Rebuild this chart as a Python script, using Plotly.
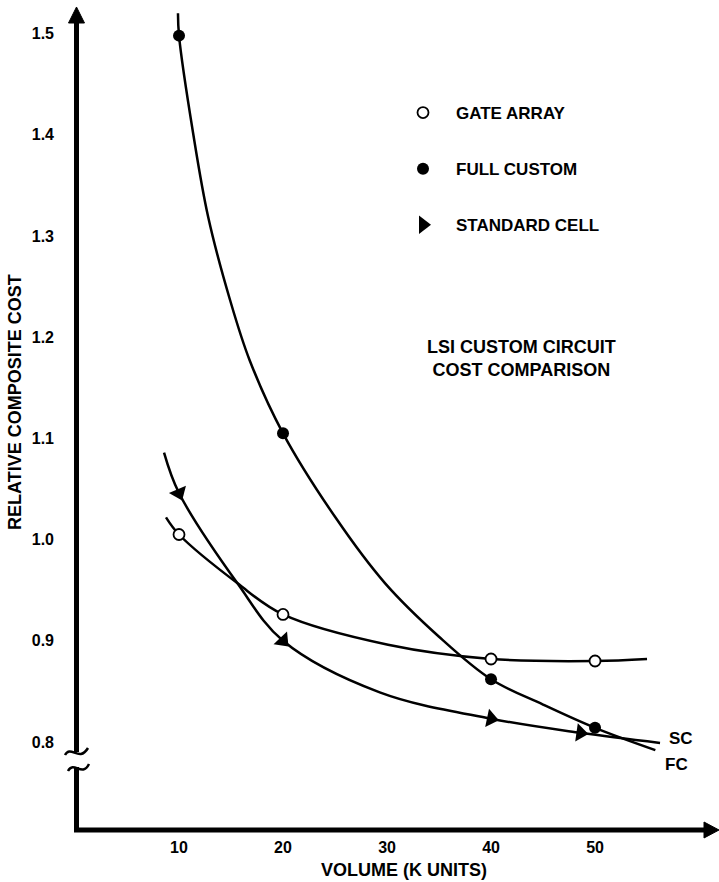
import plotly.graph_objects as go

FONT = "Liberation Sans"

# Relative composite cost at each production volume (K units)
ga_volume = [10, 20, 40, 50]
ga_cost = [1.005, 0.926, 0.882, 0.880]

fc_volume = [10, 20, 40, 50]
fc_cost = [1.498, 1.105, 0.862, 0.814]

sc_volume = [10, 20, 40, 48.6]
sc_cost = [1.046, 0.900, 0.823, 0.809]

# Faired trend curves drawn through the measured points
ga_curve_x = [8.75, 10, 15.6, 20, 30.1, 40, 50, 55.0]
ga_curve_y = [1.022, 1.005, 0.957, 0.926, 0.896, 0.882, 0.880, 0.882]

fc_curve_x = [9.9, 10, 11.35, 12.8, 14.9, 16.8, 20, 25.1, 29.8, 35, 40, 45, 50, 55.8]
fc_curve_y = [1.520, 1.498, 1.402, 1.319, 1.237, 1.177, 1.105, 1.021, 0.957, 0.904,
              0.862, 0.837, 0.814, 0.792]

sc_curve_x = [8.56, 10, 15.6, 20, 29.3, 40, 48.6, 56.25]
sc_curve_y = [1.086, 1.046, 0.957, 0.900, 0.849, 0.823, 0.809, 0.799]

x_ticks = [10, 20, 30, 40, 50]
y_ticks = [0.8, 0.9, 1.0, 1.1, 1.2, 1.3, 1.4, 1.5]

# Arrow directions of the standard-cell triangles (degrees clockwise)
sc_marker_angles = [67, 47, 12, 8]

# Figure geometry (pixels)
W, H = 719, 882
ML, MR, MT, MB = 75, 0, 8, 52
PW, PH = W - ML - MR, H - MT - MB


def fx(p):
    return (p - ML) / PW


def fy(p):
    return (H - MB - p) / PH


def path(points, close=False):
    s = "M " + " L ".join(f"{fx(x):.5f},{fy(y):.5f}" for x, y in points)
    return s + (" Z" if close else "")


def curve(p0, c1, c2, p1):
    return (f"M {fx(p0[0]):.5f},{fy(p0[1]):.5f} C {fx(c1[0]):.5f},{fy(c1[1]):.5f} "
            f"{fx(c2[0]):.5f},{fy(c2[1]):.5f} {fx(p1[0]):.5f},{fy(p1[1]):.5f}")


fig = go.Figure()

line_style = dict(color="black", width=2.5, shape="spline", smoothing=1.0)
fig.add_trace(go.Scatter(x=ga_curve_x, y=ga_curve_y, mode="lines", line=line_style,
                         showlegend=False, hoverinfo="skip"))
fig.add_trace(go.Scatter(x=fc_curve_x, y=fc_curve_y, mode="lines", line=line_style,
                         showlegend=False, hoverinfo="skip"))
fig.add_trace(go.Scatter(x=sc_curve_x, y=sc_curve_y, mode="lines", line=line_style,
                         showlegend=False, hoverinfo="skip"))

fig.add_trace(go.Scatter(
    x=ga_volume, y=ga_cost, mode="markers", name="GATE ARRAY", legendgroup="ga",
    marker=dict(symbol="circle", size=11, color="white", line=dict(color="black", width=1.8)),
))
fig.add_trace(go.Scatter(
    x=fc_volume, y=fc_cost, mode="markers", name="FULL CUSTOM", legendgroup="fc",
    marker=dict(symbol="circle", size=12, color="black", line=dict(width=0)),
))
fig.add_trace(go.Scatter(
    x=sc_volume, y=sc_cost, mode="markers", name="STANDARD CELL", legendgroup="sc",
    showlegend=False,
    marker=dict(symbol="triangle-right", size=16, color="black", angle=sc_marker_angles,
                line=dict(width=0)),
))
# legend key for the standard-cell symbol (unrotated)
fig.add_trace(go.Scatter(
    x=[None], y=[None], mode="markers", name="STANDARD CELL", legendgroup="sc",
    marker=dict(symbol="triangle-right", size=16, color="black", line=dict(width=0)),
))

shapes = []
# y axis (with break) and arrow
shapes.append(dict(type="path", path=path([(76.5, 22), (76.5, 752)]),
                   xref="paper", yref="paper", line=dict(color="black", width=5)))
shapes.append(dict(type="path", path=path([(76.5, 767), (76.5, 830)]),
                   xref="paper", yref="paper", line=dict(color="black", width=5)))
shapes.append(dict(type="path", path=path([(68.5, 23), (76.5, 7), (84.5, 23)], close=True),
                   xref="paper", yref="paper", fillcolor="black", line=dict(color="black", width=1)))
# break marks
shapes.append(dict(type="path", path=curve((65, 755), (71, 744), (79, 763), (88, 748)),
                   xref="paper", yref="paper", line=dict(color="black", width=2.5)))
shapes.append(dict(type="path", path=curve((68, 771), (74, 760), (82, 778), (89, 764)),
                   xref="paper", yref="paper", line=dict(color="black", width=2.5)))
# x axis and arrow
shapes.append(dict(type="path", path=path([(74, 830), (706, 830)]),
                   xref="paper", yref="paper", line=dict(color="black", width=5)))
shapes.append(dict(type="path", path=path([(704, 822), (719, 830), (704, 838)], close=True),
                   xref="paper", yref="paper", fillcolor="black", line=dict(color="black", width=1)))

bold = dict(family=FONT, color="black", weight="bold")


def label(x, y, text, size, **kw):
    return dict(x=fx(x), y=fy(y), xref="paper", yref="paper", text=text, showarrow=False,
                xanchor="center", yanchor="middle", font=dict(size=size, **bold), **kw)


annotations = [
    label(521, 358, "LSI CUSTOM CIRCUIT<br>COST COMPARISON", 18, align="center"),
    label(681, 738, "SC", 17),
    label(676, 764, "FC", 17),
    label(404, 870, "VOLUME (K UNITS)", 18),
    label(15, 402, "RELATIVE COMPOSITE COST", 18, textangle=-90),
]

fig.update_layout(
    width=W, height=H,
    margin=dict(l=ML, r=MR, t=MT, b=MB, pad=0),
    paper_bgcolor="white", plot_bgcolor="white",
    shapes=shapes, annotations=annotations,
    showlegend=True,
    legend=dict(
        x=fx(390), y=fy(95), xanchor="left", yanchor="top",
        font=dict(size=17, **bold), itemwidth=56, tracegroupgap=31,
        bgcolor="rgba(0,0,0,0)", borderwidth=0, traceorder="grouped",
    ),
    xaxis=dict(range=[0, 61.92], showgrid=False, zeroline=False, showline=False,
               tickvals=x_ticks, ticks="", ticklabelstandoff=6,
               tickfont=dict(size=16, **bold), fixedrange=True),
    yaxis=dict(range=[0.713, 1.5253], showgrid=False, zeroline=False, showline=False,
               tickvals=y_ticks, tickformat=".1f", ticks="", ticklabelstandoff=20,
               tickfont=dict(size=16, **bold), fixedrange=True),
)

fig.write_html("out.html")
